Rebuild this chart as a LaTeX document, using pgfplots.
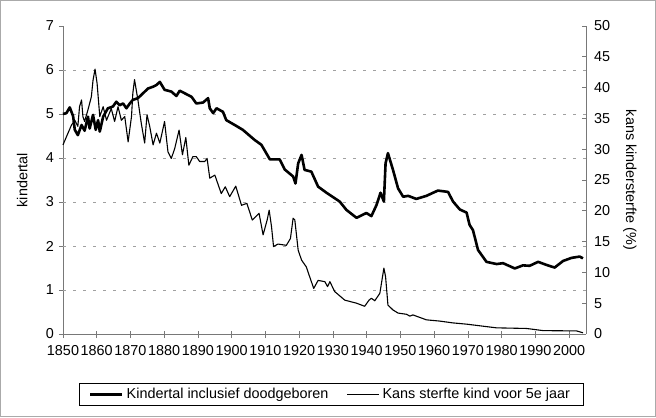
\documentclass[border=0pt]{standalone}
\usepackage{fontspec}
\setmainfont{Liberation Sans}
\usepackage{pgfplots}
\pgfplotsset{compat=1.18}
\definecolor{axgray}{RGB}{120,120,120}
\definecolor{gridgray}{RGB}{160,160,160}
\definecolor{framegray}{RGB}{170,170,170}
\newcommand{\chartfont}{\fontsize{14.4bp}{17bp}\selectfont}
\pgfplotstableread{
year val
1850 5.00
1851 5.02
1852 5.15
1853 4.95
1853.5 4.64
1854.4 4.52
1855.5 4.75
1856.4 4.62
1857.4 4.94
1857.9 4.67
1858.9 4.98
1859.7 4.64
1860.4 4.86
1860.9 4.60
1861.9 4.94
1863.3 5.13
1864.8 5.17
1865.8 5.28
1866.8 5.20
1867.8 5.24
1868.8 5.13
1869.8 5.24
1870.7 5.32
1872.2 5.36
1873.7 5.47
1875.2 5.58
1876.7 5.62
1877.7 5.66
1878.7 5.73
1880.1 5.55
1882.1 5.51
1883.6 5.41
1884.6 5.53
1886.1 5.47
1888.1 5.39
1889.5 5.24
1891.5 5.26
1893 5.36
1893.5 5.13
1894.5 5.02
1895.5 5.13
1897.4 5.05
1898.4 4.86
1900.9 4.75
1903.3 4.64
1906.8 4.41
1908.8 4.30
1911.3 3.97
1914.2 3.97
1915.7 3.74
1918.2 3.58
1918.9 3.42
1919.7 3.88
1920.7 4.07
1921.6 3.73
1923.6 3.69
1925.6 3.35
1928.1 3.21
1932 3.01
1934 2.82
1937 2.64
1939.9 2.75
1941.4 2.68
1942.9 2.93
1944.1 3.21
1945.1 3.01
1945.6 3.88
1946.3 4.11
1947.8 3.73
1949.3 3.31
1950.8 3.12
1952.3 3.14
1954.7 3.07
1957.7 3.14
1961.1 3.26
1964.1 3.23
1965.6 3.01
1967.6 2.83
1969.6 2.76
1970.5 2.48
1971.5 2.36
1973 1.91
1975.5 1.64
1978.5 1.59
1980.4 1.61
1983.9 1.49
1986.3 1.56
1988.3 1.55
1990.8 1.64
1993.3 1.57
1995.7 1.51
1998.2 1.66
2000.7 1.73
2003.1 1.76
2004.1 1.72
}\kindertal
\pgfplotstableread{
year val
1850 30.7
1851 32.0
1852.5 33.9
1853.5 34.7
1854.4 33.7
1854.9 36.9
1855.5 38.0
1855.9 35.3
1856.4 34.5
1857.4 36.4
1858.4 38.5
1858.9 41.2
1859.5 43.0
1860.1 40.7
1860.9 35.3
1861.9 36.9
1862.9 34.7
1864.3 36.6
1865.3 34.5
1866.3 36.9
1867.3 34.7
1868.3 35.3
1869.3 31.2
1870.3 35.3
1870.7 39.1
1871.2 41.3
1872.2 38.0
1873.2 34.2
1874.2 31.0
1874.9 35.6
1875.7 33.7
1876.7 30.7
1877.7 32.6
1878.7 31.0
1880.1 34.5
1881.1 29.6
1882.1 28.5
1883.1 30.1
1884.4 33.1
1885.4 29.1
1886.4 31.9
1887.3 27.4
1888.5 28.8
1889.5 28.8
1890.5 28.0
1892 28.0
1892.7 28.5
1893.5 25.3
1895 25.8
1896.9 22.8
1898.1 23.9
1899.4 22.3
1901.2 24.0
1902.9 20.9
1904.5 21.2
1906.1 18.5
1908.1 19.6
1909.3 16.1
1910.5 18.5
1911.1 20.1
1911.8 17.4
1912.4 14.2
1913.7 14.6
1916.2 14.4
1917.4 15.5
1918.2 18.8
1918.7 18.5
1919.7 13.6
1920.7 12.0
1922.1 10.9
1923.1 9.3
1924.3 7.4
1925.6 8.7
1927.6 8.5
1928.4 7.7
1929.1 8.5
1930.5 6.9
1933.5 5.5
1937 5.0
1939.4 4.5
1940.7 5.5
1941.4 5.8
1942.4 5.4
1943.9 6.6
1945.1 10.7
1945.6 9.3
1946.3 4.7
1947.8 3.9
1949.3 3.4
1951.8 3.2
1952.8 2.9
1953.7 3.1
1957.7 2.3
1961.6 2.1
1965.6 1.8
1969.6 1.6
1975.5 1.2
1978.5 1.0
1987.3 0.9
1988.8 0.8
1992.3 0.55
2002.2 0.5
2004.1 0.2
}\sterfte
\begin{document}
\chartfont
\begin{tikzpicture}[x=1bp,y=1bp]
\draw[framegray, line width=1bp] (-62.5,-82.5) rectangle (592.5,333.5);
\begin{axis}[
  at={(0,0)}, anchor=south west,
  scale only axis, width=523bp, height=308bp,
  xmin=1850, xmax=2005, ymin=0, ymax=7,
  axis y line*=left, axis x line*=bottom,
  axis line style={axgray, line width=0.8bp, -},
  xtick={1850,1860,...,2000},
  ytick={0,...,7},
  extra y ticks={1,...,6},
  extra y tick style={grid=major, major tick length=0pt, yticklabels={}},
  major grid style={gridgray, dash pattern=on 3bp off 7bp, line width=0.6bp},
  tick align=outside,
  major tick length=4bp,
  tick style={axgray, line width=0.8bp},
  xtick style={yshift=3bp, /pgfplots/major tick length=7bp},
  /pgf/number format/assume math mode=true,
  /pgf/number format/1000 sep={},
  tick label style={font=\chartfont},
  xticklabel style={yshift=-2bp},
  ylabel={kindertal},
  ylabel style={at={(axis description cs:-0.078,0.5)}, anchor=center, font=\chartfont},
  clip=false,
]
\addplot[black, line width=2.6bp, line join=round] table[x=year,y=val] {\kindertal};
\end{axis}
\begin{axis}[
  at={(0,0)}, anchor=south west,
  scale only axis, width=523bp, height=308bp,
  xmin=1850, xmax=2005, ymin=0, ymax=50,
  axis y line*=right, axis x line=none,
  axis line style={axgray, line width=0.8bp, -},
  ytick={0,5,...,50},
  tick align=inside,
  major tick length=4bp,
  tick style={axgray, line width=0.8bp},
  /pgf/number format/assume math mode=true,
  tick label style={font=\chartfont},
  yticklabel style={xshift=3bp},
  ylabel={kans kindersterfte (\%)},
  ylabel style={at={(axis description cs:1.084,0.5)}, anchor=center, rotate=180, font=\chartfont},
  legend style={at={(0.5124,-0.196)}, anchor=center, draw=black, line width=0.6bp,
    font=\chartfont, inner xsep=10bp, inner ysep=3bp,
    nodes={inner xsep=3bp, inner ysep=2bp},
    /tikz/every even column/.append style={column sep=15bp}},
  legend columns=2,
  legend image code/.code={\draw[#1] (0bp,0bp) -- (32bp,0bp);},
  clip=false,
]
\addlegendimage{black, line width=2.6bp}
\addlegendentry{Kindertal inclusief doodgeboren}
\addplot[black, line width=1.1bp, line join=round] table[x=year,y=val] {\sterfte};
\addlegendentry{Kans sterfte kind voor 5e jaar}
\end{axis}
\end{tikzpicture}
\end{document}
